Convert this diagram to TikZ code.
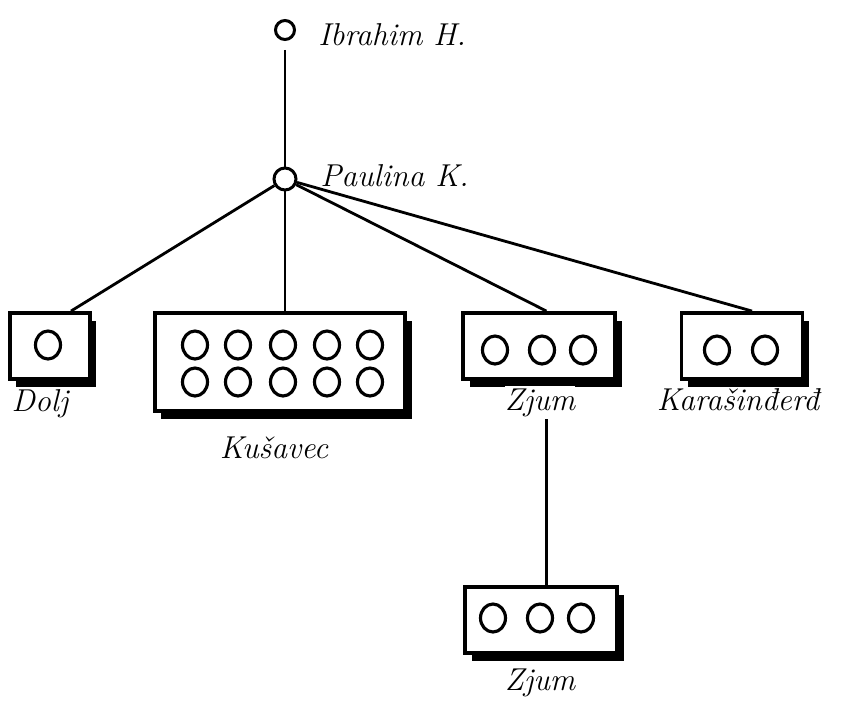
\documentclass[tikz,border=0pt]{standalone}
\usepackage{fontspec}
\usepackage{tikz}
\usetikzlibrary{arrows,shapes,shadows}
\pgfdeclarelayer{background}
\pgfsetlayers{background,main}
\newcommand\handfont{\fontsize{18}{21}\selectfont\itshape\addfontfeatures{LetterSpace=22}}
\tikzstyle{person}=[circle,draw,line width=1.7pt,minimum size=0.38cm,inner sep=0pt]
\tikzstyle{child}=[ellipse,draw,line width=1.8pt,minimum width=0.5cm,minimum height=0.56cm,inner sep=0pt]
\tikzstyle{family}=[rectangle,draw,line width=2.2pt,fill=white,inner sep=0pt,
    drop shadow={shadow xshift=0.13cm,shadow yshift=-0.16cm,fill=black,opacity=1}]
\tikzstyle{famname}=[font=\handfont,inner sep=0pt]
\tikzstyle{edge} = [draw,line width=1.6pt,-]

\begin{document}
\begin{tikzpicture}[x=0.02cm,y=-0.02cm]
    \useasboundingbox (0,0) rectangle (843,704);
    % the two persons at the top
    \node[person] (ibrahim) at (285,30) {};
    \node[person,minimum size=0.44cm] (paulina) at (285,179) {};
    \node[famname,anchor=base west] (librahim) at (318,45) {Ibrahim H.};
    \node[famname,anchor=base west] (lpaulina) at (320,186) {Paulina K.};
    % the households
    \foreach \pos/\name/\w/\h in {{(50,346)/dolj/80/66}, {(280,362)/kusavec/250/98},
        {(539,346)/zjumA/152/66}, {(742,346)/karas/121/66}, {(541,620)/zjumB/152/66}}
        \node[family,minimum width=\w*0.02cm,minimum height=\h*0.02cm] (\name) at \pos {};
    % their members
    \node[child] (c1) at (48,345) {};
    \foreach \x [count=\i] in {195,238,283,327,370}
        {\node[child] (ka\i) at (\x,345) {};
         \node[child] (kb\i) at (\x,382) {};}
    \foreach \x [count=\i] in {495,542,583}
        {\node[child] (za\i) at (\x,350) {};
         \node[child] (zb\i) at (\x-2,618) {};}
    \foreach \x [count=\i] in {717,765}
        \node[child] (r\i) at (\x,350) {};
    % names of the households
    \node[famname,anchor=base] (ldolj) at (40,411) {Dolj};
    \node[famname,anchor=base] (lkusavec) at (274,458) {Kušavec};
    \node[famname,anchor=base,fill=white,inner ysep=1.5pt] (lzjumA) at (540,410) {Zjum};
    \node[famname,anchor=base] (lkaras) at (738,410) {Karašinđerđ};
    \node[famname,anchor=base] (lzjumB) at (540,690) {Zjum};
    % connect them
    \begin{pgfonlayer}{background}
    \path[edge,shorten <=5pt] (ibrahim) -- (paulina);
    \foreach \source/ \dest in {paulina/dolj.59, paulina/zjumA.78, paulina/karas.74}
        \path[edge] (\source) -- (\dest);
    \path[edge] (paulina) -- (paulina |- kusavec.north);
    \path[edge] (zjumA.-78) -- (zjumA.-78 |- zjumB.north);
    \end{pgfonlayer}
\end{tikzpicture}
\end{document}
